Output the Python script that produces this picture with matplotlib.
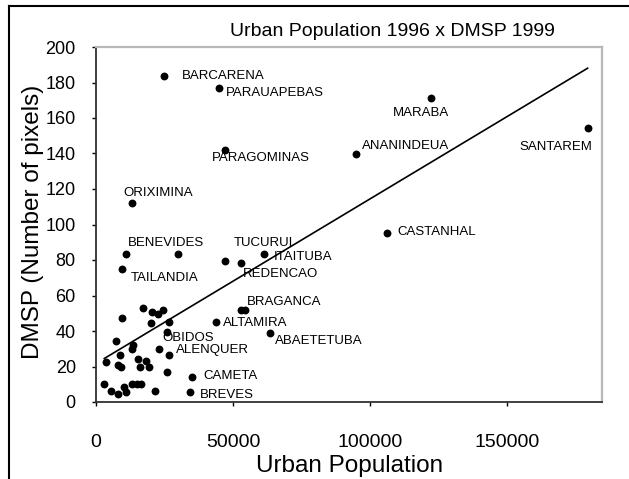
import matplotlib
matplotlib.use("Agg")
import matplotlib.pyplot as plt
from matplotlib.lines import Line2D
import numpy as np

plt.rcParams['font.family'] = ['Liberation Sans', 'DejaVu Sans']

# ---- data ----
urban_pop = [
    24800, 44900, 47200, 94900, 122300, 179450, 106100, 13000, 10950, 30040,
    9600, 47080, 52900, 61300,
    17260, 20320, 22500, 24560, 20070, 9600, 26640, 25800, 7300, 13600,
    13000, 23100, 26640, 8760, 3650, 8140, 9000, 15450, 18130, 16060,
    19450, 25800, 3030, 5360, 8140, 10220, 10950, 13100, 14900, 16400,
    21530, 34900, 34300, 43680, 63500, 53100, 54560,
]
dmsp = [
    183.8, 176.7, 142.0, 139.5, 171.1, 154.5, 95.0, 112.0, 83.4, 83.4,
    74.9, 79.4, 78.1, 83.4,
    52.8, 50.5, 49.4, 51.8, 44.3, 47.2, 45.2, 39.6, 34.4, 32.1,
    29.9, 29.7, 26.5, 26.5, 22.7, 20.8, 19.5, 24.2, 23.1, 19.9,
    19.9, 16.7, 10.1, 6.4, 4.5, 8.3, 5.8, 10.1, 10.1, 10.1,
    6.4, 14.3, 5.8, 45.2, 38.7, 51.8, 51.8,
]

# trend line
trend_intercept = 21.7
trend_slope = 9.27e-4

# city labels
label_names = ["BARCARENA", "PARAUAPEBAS", "PARAGOMINAS", "ANANINDEUA", "MARABA",
               "SANTAREM", "CASTANHAL", "ORIXIMINA", "BENEVIDES", "TAILANDIA",
               "TUCURUI", "ITAITUBA", "REDENCAO", "BRAGANCA", "ALTAMIRA",
               "ABAETETUBA", "OBIDOS", "ALENQUER", "CAMETA", "BREVES"]
label_x = [31500, 47450, 42200, 97100, 118800, 167800, 110100, 9960, 11560, 12660,
           50110, 64700, 53760, 55000, 46460, 65330, 24330, 29200, 39160, 37960]
label_y = [183.7, 174.3, 137.3, 144.5, 162.6, 143.5, 95.9, 117.6, 89.6, 70.0,
           89.4, 81.9, 72.1, 56.5, 44.3, 34.4, 35.9, 29.1, 14.8, 3.9]
label_ha = ["left", "left", "left", "left", "center", "center", "left", "left", "left", "left",
            "left", "left", "left", "left", "left", "left", "left", "left", "left", "left"]

x_ticks = [0, 50000, 100000, 150000]
y_ticks = list(range(0, 201, 20))

title = "Urban Population 1996 x DMSP 1999"
x_label = "Urban Population"
y_label = "DMSP (Number of pixels)"

# ---- figure ----
W, H = 629, 479
fig = plt.figure(figsize=(W / 100, H / 100), dpi=100)
ax = fig.add_axes([96 / W, 1 - 402 / H, (602 - 96) / W, (402 - 47) / H])

ax.scatter(urban_pop, dmsp, s=32, color="black", zorder=3, linewidths=0)

xs = np.array([min(urban_pop), max(urban_pop)])
ax.plot(xs, trend_intercept + trend_slope * xs, color="black", lw=1.2, zorder=2)

for name, lx, ly, ha in zip(label_names, label_x, label_y, label_ha):
    ax.text(lx, ly, name, ha=ha, va="center", fontsize=9.5, color="black")

ax.set_xlim(0, 184700)
ax.set_ylim(0, 200)
ax.set_xticks(x_ticks)
ax.set_xticklabels([str(v) for v in x_ticks])
ax.set_yticks(y_ticks)
ax.set_yticklabels([str(v) for v in y_ticks])
ax.tick_params(axis="x", direction="out", length=3, width=1, pad=20, labelsize=14)
ax.tick_params(axis="y", direction="out", length=3, width=1, pad=11.5, labelsize=13)

for s in ["left", "bottom"]:
    ax.spines[s].set_color("#303030")
    ax.spines[s].set_linewidth(1.3)
for s in ["top", "right"]:
    ax.spines[s].set_color("#b8b8b8")
    ax.spines[s].set_linewidth(1.6)

fig.text(392 / W, 1 - 32 / H, title, ha="center", va="center", fontsize=14)
fig.text(350 / W, 1 - 466 / H, x_label, ha="center", va="center", fontsize=17.5)
fig.text(33 / W, 1 - 222 / H, y_label, ha="center", va="center", fontsize=17.5, rotation=90)

# outer chart border (partially visible)
fig.add_artist(Line2D([8.5 / W, 8.5 / W], [0, 1 - 5.5 / H], transform=fig.transFigure,
                      color="black", lw=1.5))
fig.add_artist(Line2D([8.5 / W, 1], [1 - 5.5 / H, 1 - 5.5 / H], transform=fig.transFigure,
                      color="black", lw=1.5))

fig.savefig("out.png", dpi=100)
